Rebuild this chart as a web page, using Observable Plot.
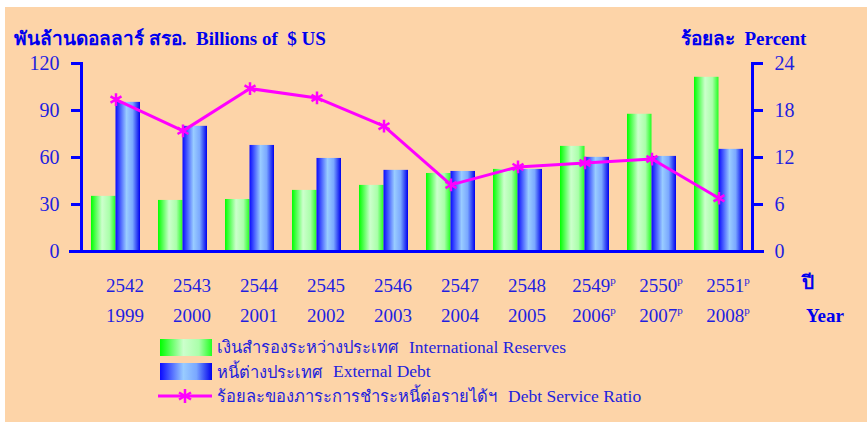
<!DOCTYPE html>
<html>
<head>
<meta charset="utf-8">
<script src="https://cdn.jsdelivr.net/npm/d3@7"></script>
<script src="https://cdn.jsdelivr.net/npm/@observablehq/plot@0.6"></script>
<style>
  html, body { margin: 0; padding: 0; background: #ffffff; }
  #page { position: relative; width: 867px; height: 422px; overflow: hidden; }
  #panel { position: absolute; left: 5px; top: 7px; width: 862px; height: 415px; background: #FDD4A8; }
  #chart { position: absolute; left: 0; top: 0; }
  .ttl { position: absolute; font-family: "Liberation Serif", "DejaVu Serif", serif; font-weight: bold; font-size: 19px; color: #0000ee; white-space: nowrap; line-height: 1; }
  .ttl .thb { font-size: 19px; }
  #legend { position: absolute; left: 158px; top: 335px; font-family: "Liberation Serif", "DejaVu Serif", serif; color: #2323dd; }
  .row { position: relative; height: 24.5px; display: flex; align-items: center; white-space: nowrap; }
  .sw { width: 52px; height: 17px; margin-left: 2px; margin-right: 5px; }
  .th { font-size: 16.5px; }
  .en { font-size: 17.5px; margin-left: 11px; }
</style>
</head>
<body>
<div id="page">
  <div id="panel"></div>
  <div id="chart"></div>
  <div class="ttl" style="left:14px; top:29px;"><span class="thb">พันล้านดอลลาร์ สรอ.</span>&nbsp; Billions of&nbsp; $ US</div>
  <div class="ttl" style="left:681px; top:29px;"><span class="thb">ร้อยละ</span>&nbsp; Percent</div>
  <div class="ttl" style="left:802px; top:273px;"><span class="thb">ปี</span></div>
  <div class="ttl" style="left:806px; top:306px;">Year</div>
  <div id="legend"></div>
</div>
<script>
// ---- data ----
const yearsBE = ["2542","2543","2544","2545","2546","2547","2548","2549","2550","2551"];
const yearsCE = ["1999","2000","2001","2002","2003","2004","2005","2006","2007","2008"];
const provisional = [false,false,false,false,false,false,false,true,true,true];
const reserves = [35.2, 32.6, 33.2, 39.0, 42.2, 49.8, 52.4, 67.1, 87.6, 111.2];   // Billions of $US
const externalDebt = [95.2, 79.9, 67.7, 59.4, 51.8, 51.1, 52.4, 60.1, 60.7, 65.2]; // Billions of $US
const debtServiceRatio = [19.4, 15.4, 20.8, 19.6, 16.0, 8.5, 10.8, 11.3, 11.8, 6.8]; // Percent
const leftTicks = [0, 30, 60, 90, 120];
const rightTicks = [0, 6, 12, 18, 24];
const seriesNames = [
  ["เงินสำรองระหว่างประเทศ", "International Reserves"],
  ["หนี้ต่างประเทศ", "External Debt"],
  ["ร้อยละของภาระการชำระหนี้ต่อรายได้ฯ", "Debt Service Ratio"]
];

const rows = yearsCE.map((y, i) => ({
  year: y, be: yearsBE[i], p: provisional[i],
  reserves: reserves[i], debt: externalDebt[i], dsr: debtServiceRatio[i]
}));
const k = 120 / 24; // right-axis to left-axis factor

const defs = () => {
  const ns = "http://www.w3.org/2000/svg";
  const d = document.createElementNS(ns, "defs");
  d.innerHTML = `
    <linearGradient id="gGreen" x1="0" x2="1" y1="0" y2="0">
      <stop offset="0" stop-color="#00ff00"/>
      <stop offset="0.45" stop-color="#ccffcc"/>
      <stop offset="0.75" stop-color="#aaffaa"/>
      <stop offset="1" stop-color="#22ff22"/>
    </linearGradient>
    <linearGradient id="gBlue" x1="0" x2="1" y1="0" y2="0">
      <stop offset="0" stop-color="#0a0aff"/>
      <stop offset="0.45" stop-color="#99ccff"/>
      <stop offset="0.7" stop-color="#7aa8ff"/>
      <stop offset="1" stop-color="#0000ee"/>
    </linearGradient>`;
  return d;
};

const axisFont = "'Liberation Serif', 'DejaVu Serif', serif";
const blue = "#0000ff";
const labelColor = "#1f1fe0";

const chart = Plot.plot({
  width: 867,
  height: 330,
  marginTop: 63,
  marginBottom: 79,
  marginLeft: 81,
  marginRight: 115,
  style: { background: "transparent", fontFamily: axisFont, fontSize: "19px", color: labelColor },
  x: { domain: yearsCE, paddingInner: 0.27, paddingOuter: 0.135, axis: null },
  y: { domain: [0, 120], axis: null },
  marks: [
    defs,
    Plot.barY(rows, { x: "year", y: "reserves", fill: "url(#gGreen)", insetRight: 24.5 }),
    Plot.barY(rows, { x: "year", y: "debt", fill: "url(#gBlue)", insetLeft: 24.5 }),
    Plot.line(rows, { x: "year", y: d => d.dsr * k, stroke: "#ff00ff", strokeWidth: 3 }),
    Plot.dot(rows, { x: "year", y: d => d.dsr * k, symbol: "asterisk", r: 6, stroke: "#ff00ff", strokeWidth: 2.5 }),
    Plot.frame({ anchor: "left", stroke: blue, strokeWidth: 3 }),
    Plot.frame({ anchor: "right", stroke: blue, strokeWidth: 3 }),
    Plot.frame({ anchor: "bottom", stroke: blue, strokeWidth: 3, insetLeft: -11, insetRight: -10 }),
    Plot.axisY({ anchor: "left", ticks: leftTicks, tickSize: 10, tickPadding: 12, stroke: blue, strokeWidth: 3, fill: labelColor, fontSize: 20, label: null }),
    Plot.axisY({ anchor: "right", ticks: rightTicks.map(t => t * k), tickFormat: d => String(d / k), tickSize: 10, tickPadding: 12, stroke: blue, strokeWidth: 3, fill: labelColor, fontSize: 20, label: null }),
    Plot.axisX({
      ticks: yearsCE,
      tickFormat: (d, i) => `${yearsBE[i]}${provisional[i] ? "*" : ""}\n${d}${provisional[i] ? "*" : ""}`,
      tickSize: 0, tickPadding: 19, lineHeight: 1.6, fontSize: 19, fill: labelColor, dx: 9, label: null
    })
  ]
});

// render the provisional marks as superscript "p"
d3.select(chart).selectAll("tspan").each(function () {
  const t = this.textContent;
  if (t.endsWith("*")) {
    this.textContent = t.slice(0, -1);
    const s = document.createElementNS("http://www.w3.org/2000/svg", "tspan");
    s.setAttribute("font-size", "11");
    s.setAttribute("baseline-shift", "70%");
    s.textContent = "p";
    this.appendChild(s);
  }
});
document.getElementById("chart").appendChild(chart);

// legend (HTML)
const legend = document.getElementById("legend");
const swatches = [
  `<div class="sw" style="background: linear-gradient(to right, #00ff00, #ccffcc 45%, #aaffaa 75%, #22ff22);"></div>`,
  `<div class="sw" style="background: linear-gradient(to right, #0a0aff, #99ccff 45%, #7aa8ff 70%, #0000ee);"></div>`,
  `<svg width="59" height="20" style="margin-right:0px"><line x1="0" x2="54" y1="10" y2="10" stroke="#ff00ff" stroke-width="3"/>
     <g stroke="#ff00ff" stroke-width="2.5" transform="translate(27,10)">
       <line x1="0" y1="-7" x2="0" y2="7"/><line x1="-6" y1="-3.5" x2="6" y2="3.5"/><line x1="-6" y1="3.5" x2="6" y2="-3.5"/>
     </g></svg>`
];
seriesNames.forEach((n, i) => {
  const r = document.createElement("div");
  r.className = "row";
  r.innerHTML = `${swatches[i]}<span class="th">${n[0]}</span><span class="en">${n[1]}</span>`;
  legend.appendChild(r);
});
</script>
</body>
</html>
